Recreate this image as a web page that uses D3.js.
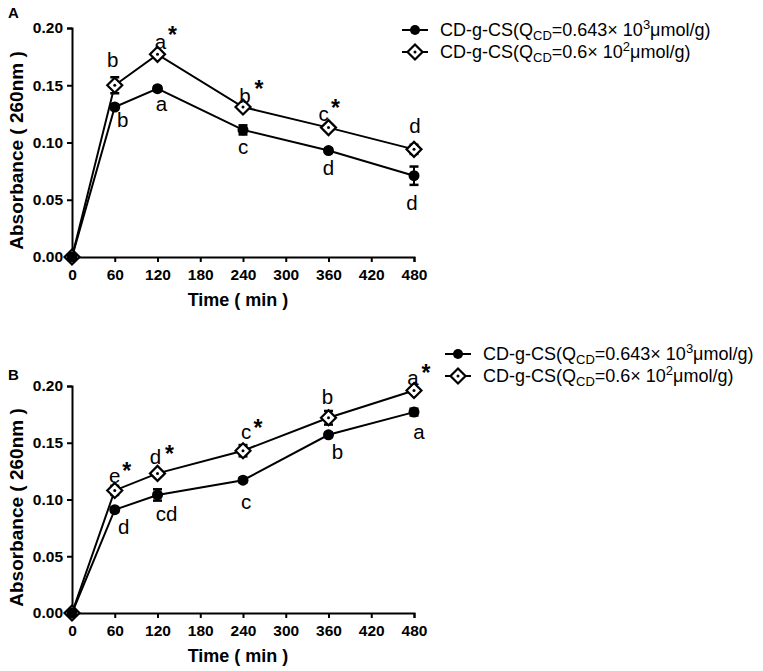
<!DOCTYPE html>
<html>
<head>
<meta charset="utf-8">
<script src="https://cdn.jsdelivr.net/npm/d3@7"></script>
<style>
  body { margin: 0; background: #fff; }
  svg { display: block; font-family: Arial, "Liberation Sans", sans-serif; }
</style>
</head>
<body>
<svg id="chart" width="763" height="671"></svg>
<script>
// time points (min)
const times = [0, 60, 120, 240, 360, 480];
const xTicks = [0, 60, 120, 180, 240, 300, 360, 420, 480];
const yTicks = [0, 0.05, 0.10, 0.15, 0.20];

// panel A
const aHigh = [0, 0.131, 0.147, 0.111, 0.093, 0.071];
const aHighErr = [0, 0.002, 0.002, 0.004, 0.002, 0.008];
const aLow = [0, 0.150, 0.177, 0.131, 0.113, 0.094];
const aLowErr = [0, 0.007, 0.002, 0.002, 0.002, 0.004];
const aHighLetters = ['', 'b', 'a', 'c', 'd', 'd'];
const aLowLetters = ['', 'b', 'a', 'b', 'c', 'd'];
const aLowStars = [false, false, true, true, true, false];

// panel B
const bHigh = [0, 0.091, 0.104, 0.117, 0.157, 0.177];
const bHighErr = [0, 0.002, 0.005, 0.002, 0.002, 0.003];
const bLow = [0, 0.108, 0.123, 0.143, 0.172, 0.196];
const bLowErr = [0, 0.004, 0.002, 0.005, 0.006, 0.002];
const bHighLetters = ['', 'd', 'cd', 'c', 'b', 'a'];
const bLowLetters = ['', 'e', 'd', 'c', 'b', 'a'];
const bLowStars = [false, true, true, true, false, true];

const svg = d3.select('#chart');

function drawPanel(cfg) {
    const x = d3.scaleLinear().domain([0, 480]).range([72, 414]);
    const y = d3.scaleLinear().domain([0, 0.20]).range([cfg.bottom, cfg.top]);
    const g = svg.append('g');

    // axes
    const yAxis = g.append('g')
        .attr('transform', 'translate(72,0)')
        .call(d3.axisLeft(y).tickValues(yTicks).tickFormat(d3.format('.2f')).tickSize(5).tickPadding(4));
    const xAxis = g.append('g')
        .attr('transform', `translate(0,${cfg.bottom})`)
        .call(d3.axisBottom(x).tickValues(xTicks).tickSize(5).tickPadding(7));
    [xAxis, yAxis].forEach(ax => {
        ax.select('.domain').attr('stroke', '#000').attr('stroke-width', 2);
        ax.selectAll('.tick line').attr('stroke', '#000').attr('stroke-width', 2);
        ax.selectAll('.tick text')
            .attr('fill', '#000')
            .style('font-size', '15.5px')
            .style('font-weight', 'bold')
            .style('font-family', 'Arial, "Liberation Sans", sans-serif');
    });

    // titles
    g.append('text')
        .attr('x', 8).attr('y', cfg.labelY)
        .style('font-size', '15px').style('font-weight', 'bold')
        .text(cfg.label);
    g.append('text')
        .attr('transform', `translate(16,${(cfg.top + cfg.bottom) / 2 + 8}) rotate(-90)`)
        .attr('text-anchor', 'middle').attr('dominant-baseline', 'central')
        .style('font-size', '19px').style('font-weight', 'bold')
        .text('Absorbance ( 260nm )');
    g.append('text')
        .attr('x', 238).attr('y', cfg.bottom + 43)
        .attr('text-anchor', 'middle').attr('dominant-baseline', 'central')
        .style('font-size', '18px').style('font-weight', 'bold')
        .text('Time ( min )');

    const line = d3.line().x(d => x(d.t)).y(d => y(d.v));
    const rows = (vals, errs) => times.map((t, i) => ({ t, v: vals[i], e: errs[i], i }));
    const low = rows(cfg.low, cfg.lowErr);
    const high = rows(cfg.high, cfg.highErr);

    [low, high].forEach(series => {
        g.append('path').datum(series)
            .attr('d', line).attr('fill', 'none')
            .attr('stroke', '#000').attr('stroke-width', 2);
        // error bars
        const eb = g.append('g').selectAll('g').data(series.filter(d => d.e > 0)).join('g');
        eb.append('line')
            .attr('x1', d => x(d.t)).attr('x2', d => x(d.t))
            .attr('y1', d => y(d.v - d.e)).attr('y2', d => y(d.v + d.e))
            .attr('stroke', '#000').attr('stroke-width', 2);
        [-1, 1].forEach(s => {
            eb.append('line')
                .attr('x1', d => x(d.t) - 4.5).attr('x2', d => x(d.t) + 4.5)
                .attr('y1', d => y(d.v + s * d.e)).attr('y2', d => y(d.v + s * d.e))
                .attr('stroke', '#000').attr('stroke-width', 2.5);
        });
    });

    // open diamonds, then filled circles on top
    const diamond = 'M0,-7.5L7.5,0L0,7.5L-7.5,0Z';
    g.append('g').selectAll('path').data(low).join('path')
        .attr('transform', d => `translate(${x(d.t)},${y(d.v)})`)
        .attr('d', diamond)
        .attr('fill', '#fff').attr('stroke', '#000').attr('stroke-width', 2.2);
    g.append('g').selectAll('circle.dot').data(low.filter(d => d.e > 0)).join('circle')
        .attr('cx', d => x(d.t)).attr('cy', d => y(d.v)).attr('r', 1.5)
        .attr('fill', '#000');
    g.append('g').selectAll('circle.mark').data(high).join('circle')
        .attr('cx', d => x(d.t)).attr('cy', d => y(d.v)).attr('r', 5.5)
        .attr('fill', '#000');

    // significance letters
    const letter = (series, letters, offs) => {
        g.append('g').selectAll('text').data(series.filter(d => letters[d.i])).join('text')
            .attr('x', d => x(d.t) + offs[d.i][0])
            .attr('y', d => y(d.v) + offs[d.i][1])
            .attr('text-anchor', 'middle').attr('dominant-baseline', 'central')
            .style('font-size', '20.5px')
            .text(d => letters[d.i]);
    };
    letter(high, cfg.highLetters, cfg.highOff);
    letter(low, cfg.lowLetters, cfg.lowOff);
    g.append('g').selectAll('text').data(low.filter(d => cfg.lowStars[d.i])).join('text')
        .attr('x', d => x(d.t) + cfg.starOff[d.i][0])
        .attr('y', d => y(d.v) + cfg.starOff[d.i][1] + 5)
        .attr('text-anchor', 'middle').attr('dominant-baseline', 'central')
        .style('font-size', '23px').style('font-weight', 'bold')
        .text('*');

    // legend
    const lg = g.append('g').attr('transform', `translate(${cfg.legX},${cfg.legY})`);
    const entries = [
        { sym: 'circle', exp: '3', val: '0.643' },
        { sym: 'diamond', exp: '2', val: '0.6' }
    ];
    entries.forEach((e, k) => {
        const row = lg.append('g').attr('transform', `translate(0,${k * 22})`);
        row.append('line').attr('x1', 0).attr('x2', 26).attr('y1', 0).attr('y2', 0)
            .attr('stroke', '#000').attr('stroke-width', 2);
        if (e.sym === 'circle') {
            row.append('circle').attr('cx', 13).attr('cy', 0).attr('r', 5).attr('fill', '#000');
        } else {
            row.append('path').attr('transform', 'translate(13,0)').attr('d', diamond)
                .attr('fill', '#fff').attr('stroke', '#000').attr('stroke-width', 2.2);
            row.append('circle').attr('cx', 13).attr('cy', 0).attr('r', 1.5).attr('fill', '#000');
        }
        const t = row.append('text').attr('x', 38).attr('y', 6)
            .style('font-size', '18px');
        t.append('tspan').text('CD-g-CS(Q');
        t.append('tspan').attr('dy', 4).style('font-size', '13px').text('CD');
        t.append('tspan').attr('dy', -4).text(`=${e.val}× 10`);
        t.append('tspan').attr('dy', -7).style('font-size', '13px').text(e.exp);
        t.append('tspan').attr('dy', 7).text('μmol/g)');
    });
}

drawPanel({
    label: 'A', labelY: 18, top: 28, bottom: 257, legX: 402, legY: 30,
    high: aHigh, highErr: aHighErr, low: aLow, lowErr: aLowErr,
    highLetters: aHighLetters, lowLetters: aLowLetters, lowStars: aLowStars,
    highOff: [[0, 0], [8, 12], [4, 15], [0, 17], [0, 17], [-2, 27]],
    lowOff: [[0, 0], [-2, -26], [3, -13], [2, -12], [-5, -14], [1, -24]],
    starOff: [[0, 0], [0, 0], [15, -24], [16, -23], [7, -25], [0, 0]]
});

drawPanel({
    label: 'B', labelY: 380, top: 386, bottom: 613, legX: 445, legY: 354,
    high: bHigh, highErr: bHighErr, low: bLow, lowErr: bLowErr,
    highLetters: bHighLetters, lowLetters: bLowLetters, lowStars: bLowStars,
    highOff: [[0, 0], [9, 17], [9, 19], [3, 21], [9, 17], [5, 19]],
    lowOff: [[0, 0], [0, -15], [-2, -17], [3, -19], [-1, -21], [-1, -13]],
    starOff: [[0, 0], [12, -24], [12, -24], [15, -28], [0, 0], [12, -23]]
});
</script>
</body>
</html>
